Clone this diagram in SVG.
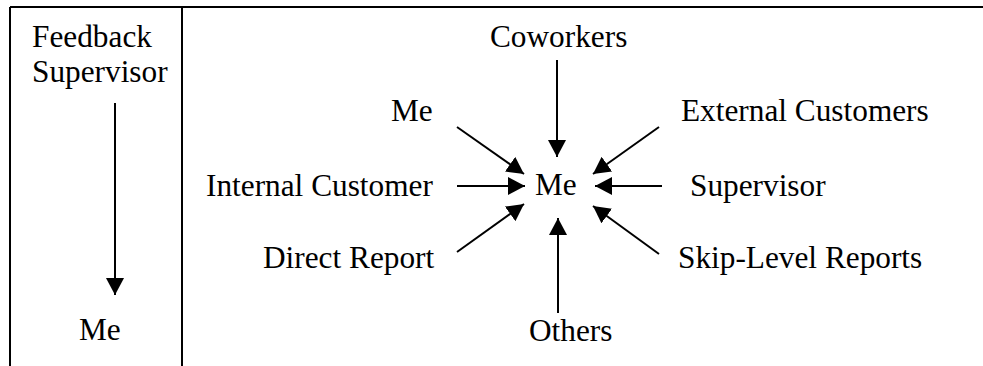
<svg xmlns="http://www.w3.org/2000/svg" width="983" height="366" viewBox="0 0 983 366">
  <style>
    text { font-family: "Liberation Serif", "Times New Roman", serif; font-size: 31.3px; fill: #000; }
    .rule { stroke: #000; stroke-width: 2; fill: none; }
    .conn line { stroke: #000; stroke-width: 2; }
  </style>
  <defs>
    <marker id="head" viewBox="0 0 17 18" refX="17" refY="9" markerWidth="17" markerHeight="18" markerUnits="userSpaceOnUse" orient="auto">
      <path d="M0,0 L17,9 L0,18 Z" fill="#000"/>
    </marker>
  </defs>
  <rect width="983" height="366" fill="#fff"/>

  <!-- table rules -->
  <g id="frame">
    <line class="rule" x1="10" y1="7" x2="983" y2="7"/>
    <line class="rule" x1="10" y1="7" x2="10" y2="366"/>
    <line class="rule" x1="182" y1="7" x2="182" y2="366"/>
  </g>

  <!-- left column: top-down feedback -->
  <g id="feedback-supervisor">
    <text x="32" y="47">Feedback</text>
    <text x="32" y="82">Supervisor</text>
  </g>
  <g id="feedback-me">
    <text x="79" y="340">Me</text>
  </g>

  <!-- right column: 360 feedback -->
  <g id="center-me"><text x="535" y="195">Me</text></g>
  <g id="coworkers"><text x="490" y="47">Coworkers</text></g>
  <g id="self"><text x="391" y="121">Me</text></g>
  <g id="external-customers"><text x="681" y="121">External Customers</text></g>
  <g id="internal-customer"><text x="206" y="196">Internal Customer</text></g>
  <g id="supervisor"><text x="690" y="196">Supervisor</text></g>
  <g id="direct-report"><text x="263" y="268">Direct Report</text></g>
  <g id="skip-level-reports"><text x="678" y="268">Skip-Level Reports</text></g>
  <g id="others"><text x="529" y="341">Others</text></g>

  <g id="connectors" class="conn">
    <line x1="115" y1="103" x2="115" y2="295" marker-end="url(#head)"/>
    <line x1="557" y1="60" x2="557" y2="157" marker-end="url(#head)"/>
    <line x1="457" y1="127" x2="524" y2="174" marker-end="url(#head)"/>
    <line x1="659" y1="127" x2="593" y2="174" marker-end="url(#head)"/>
    <line x1="457" y1="186" x2="525" y2="186" marker-end="url(#head)"/>
    <line x1="662" y1="186" x2="595" y2="186" marker-end="url(#head)"/>
    <line x1="457" y1="252" x2="524" y2="204" marker-end="url(#head)"/>
    <line x1="659" y1="254" x2="593" y2="206" marker-end="url(#head)"/>
    <line x1="558" y1="313" x2="558" y2="218" marker-end="url(#head)"/>
  </g>
</svg>
